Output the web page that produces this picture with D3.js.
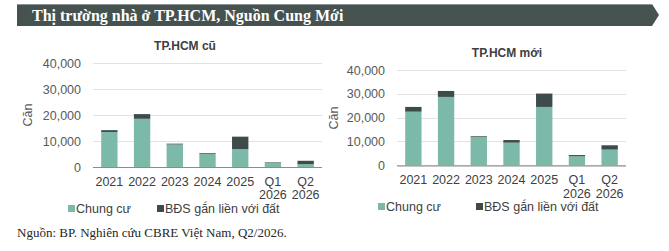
<!DOCTYPE html>
<html><head><meta charset="utf-8">
<script src="https://cdn.jsdelivr.net/npm/d3@7"></script>
<style>body{margin:0;background:#fff}svg{display:block}</style>
</head><body>
<svg id="c" width="669" height="251"></svg>
<script>
const categories = [["2021"],["2022"],["2023"],["2024"],["2025"],["Q1","2026"],["Q2","2026"]];
const oldApartment = [13500, 18600, 8700, 5000, 6900, 1600, 1100];
const oldLanded    = [700, 1800, 300, 300, 4800, 200, 1300];
const newApartment = [22500, 28700, 11900, 9500, 24500, 3800, 6600];
const newLanded    = [2000, 2500, 300, 1100, 5600, 500, 1800];
const yTicks = [0, 10000, 20000, 30000, 40000];
const seriesNames = ["Chung cư", "BĐS gắn liền với đất"];
const colors = ["#7db9a9", "#3d4b4b"];

const svg = d3.select("#c");

// Banner
svg.append("path")
  .attr("d", "M17,4 L652,4 L659,15 L652,26 L17,26 Z")
  .attr("fill", "#45524f");
svg.append("line").attr("x1",17).attr("x2",652).attr("y1",4.5).attr("y2",4.5)
  .attr("stroke","#8a9492").attr("stroke-width",1);
svg.append("text").attr("x",32).attr("y",20.5)
  .attr("font-family","Liberation Serif, serif").attr("font-weight","bold")
  .attr("font-size",16).attr("fill","#fff")
  .text("Thị trường nhà ở TP.HCM, Nguồn Cung Mới");

function drawChart(cfg){
  const g = svg.append("g");
  const x = d3.scaleBand().domain(d3.range(categories.length)).range([cfg.x0, cfg.x1]).paddingInner(0.5).paddingOuter(0.25);
  const y = d3.scaleLinear().domain([0, 40000]).range([cfg.yb, cfg.yt]);
  // grid
  g.selectAll(".grid").data(yTicks.slice(1)).join("line")
    .attr("x1", cfg.x0).attr("x2", cfg.x1)
    .attr("y1", d=>Math.round(y(d))+0.5).attr("y2", d=>Math.round(y(d))+0.5)
    .attr("stroke", "#e3e3e3").attr("stroke-width", 1);
  // y axis
  const ya = d3.axisLeft(y).tickValues(yTicks).tickSize(0).tickPadding(0).tickFormat(d3.format(","));
  const yg = g.append("g").attr("transform", `translate(${cfg.x0 - 12},0)`).call(ya);
  yg.select(".domain").remove();
  yg.selectAll("text").attr("font-family","Liberation Sans, Arial, sans-serif").attr("font-size",12.5).attr("fill","#595959");
  // bars
  const stack = categories.map((c,i)=>({i, a: cfg.apt[i], l: cfg.land[i]}));
  g.selectAll(".ba").data(stack).join("rect")
    .attr("x", d=>x(d.i)).attr("width", x.bandwidth())
    .attr("y", d=>y(d.a)).attr("height", d=>y(0)-y(d.a)).attr("fill", colors[0]);
  g.selectAll(".bl").data(stack).join("rect")
    .attr("x", d=>x(d.i)).attr("width", x.bandwidth())
    .attr("y", d=>y(d.a+d.l)).attr("height", d=>y(d.a)-y(d.a+d.l)).attr("fill", colors[1]);
  // baseline
  g.append("line").attr("x1", cfg.x0).attr("x2", cfg.x1)
    .attr("y1", y(0)+0.5).attr("y2", y(0)+0.5).attr("stroke","#8c8c8c").attr("stroke-width",1.2);
  // x labels
  const xl = g.selectAll(".xl").data(categories.map((c,i)=>({c,i}))).join("text")
    .attr("x", d=>x(d.i)+x.bandwidth()/2).attr("y", cfg.xlabY)
    .attr("text-anchor","middle").attr("font-family","Liberation Sans, Arial, sans-serif")
    .attr("font-size",12.5).attr("fill","#404040");
  xl.selectAll("tspan").data(d=>d.c.map((t,k)=>({t,k,xx:x(d.i)+x.bandwidth()/2}))).join("tspan")
    .attr("x", d=>d.xx).attr("dy", d=>d.k===0?0:cfg.lineH).text(d=>d.t);
  // title
  g.append("text").attr("x", cfg.titleX).attr("y", cfg.titleY).attr("text-anchor","middle")
    .attr("font-family","Liberation Sans, Arial, sans-serif").attr("font-weight","bold")
    .attr("font-size",12).attr("fill","#404040").text(cfg.title);
  // y axis title
  g.append("text").attr("transform", `translate(${cfg.ytX},${cfg.ytY}) rotate(-90)`)
    .attr("text-anchor","middle").attr("font-family","Liberation Sans, Arial, sans-serif")
    .attr("font-size",12.5).attr("fill","#595959").text("Căn");
  // legend
  seriesNames.forEach((n,k)=>{
    g.append("rect").attr("x", cfg.leg[k]).attr("y", cfg.legY-8).attr("width",7).attr("height",7).attr("fill",colors[k]);
    g.append("text").attr("x", cfg.leg[k]+8).attr("y", cfg.legY)
      .attr("font-family","Liberation Sans, Arial, sans-serif").attr("font-size",12.5).attr("fill","#404040").text(n);
  });
}

drawChart({x0:93, x1:322, yb:167, yt:63.3, apt:oldApartment, land:oldLanded,
  xlabY:186, lineH:12.5, title:"TP.HCM cũ", titleX:185, titleY:50, ytX:32, ytY:115,
  leg:[68,157], legY:213});
drawChart({x0:397, x1:626, yb:165.3, yt:70, apt:newApartment, land:newLanded,
  xlabY:184, lineH:13.5, title:"TP.HCM mới", titleX:507, titleY:57, ytX:338, ytY:118,
  leg:[378,476], legY:211});

svg.append("text").attr("x",17).attr("y",237)
  .attr("font-family","Liberation Serif, serif").attr("font-size",13).attr("fill","#262626")
  .text("Nguồn: BP. Nghiên cứu CBRE Việt Nam, Q2/2026.");
</script>
</body></html>
